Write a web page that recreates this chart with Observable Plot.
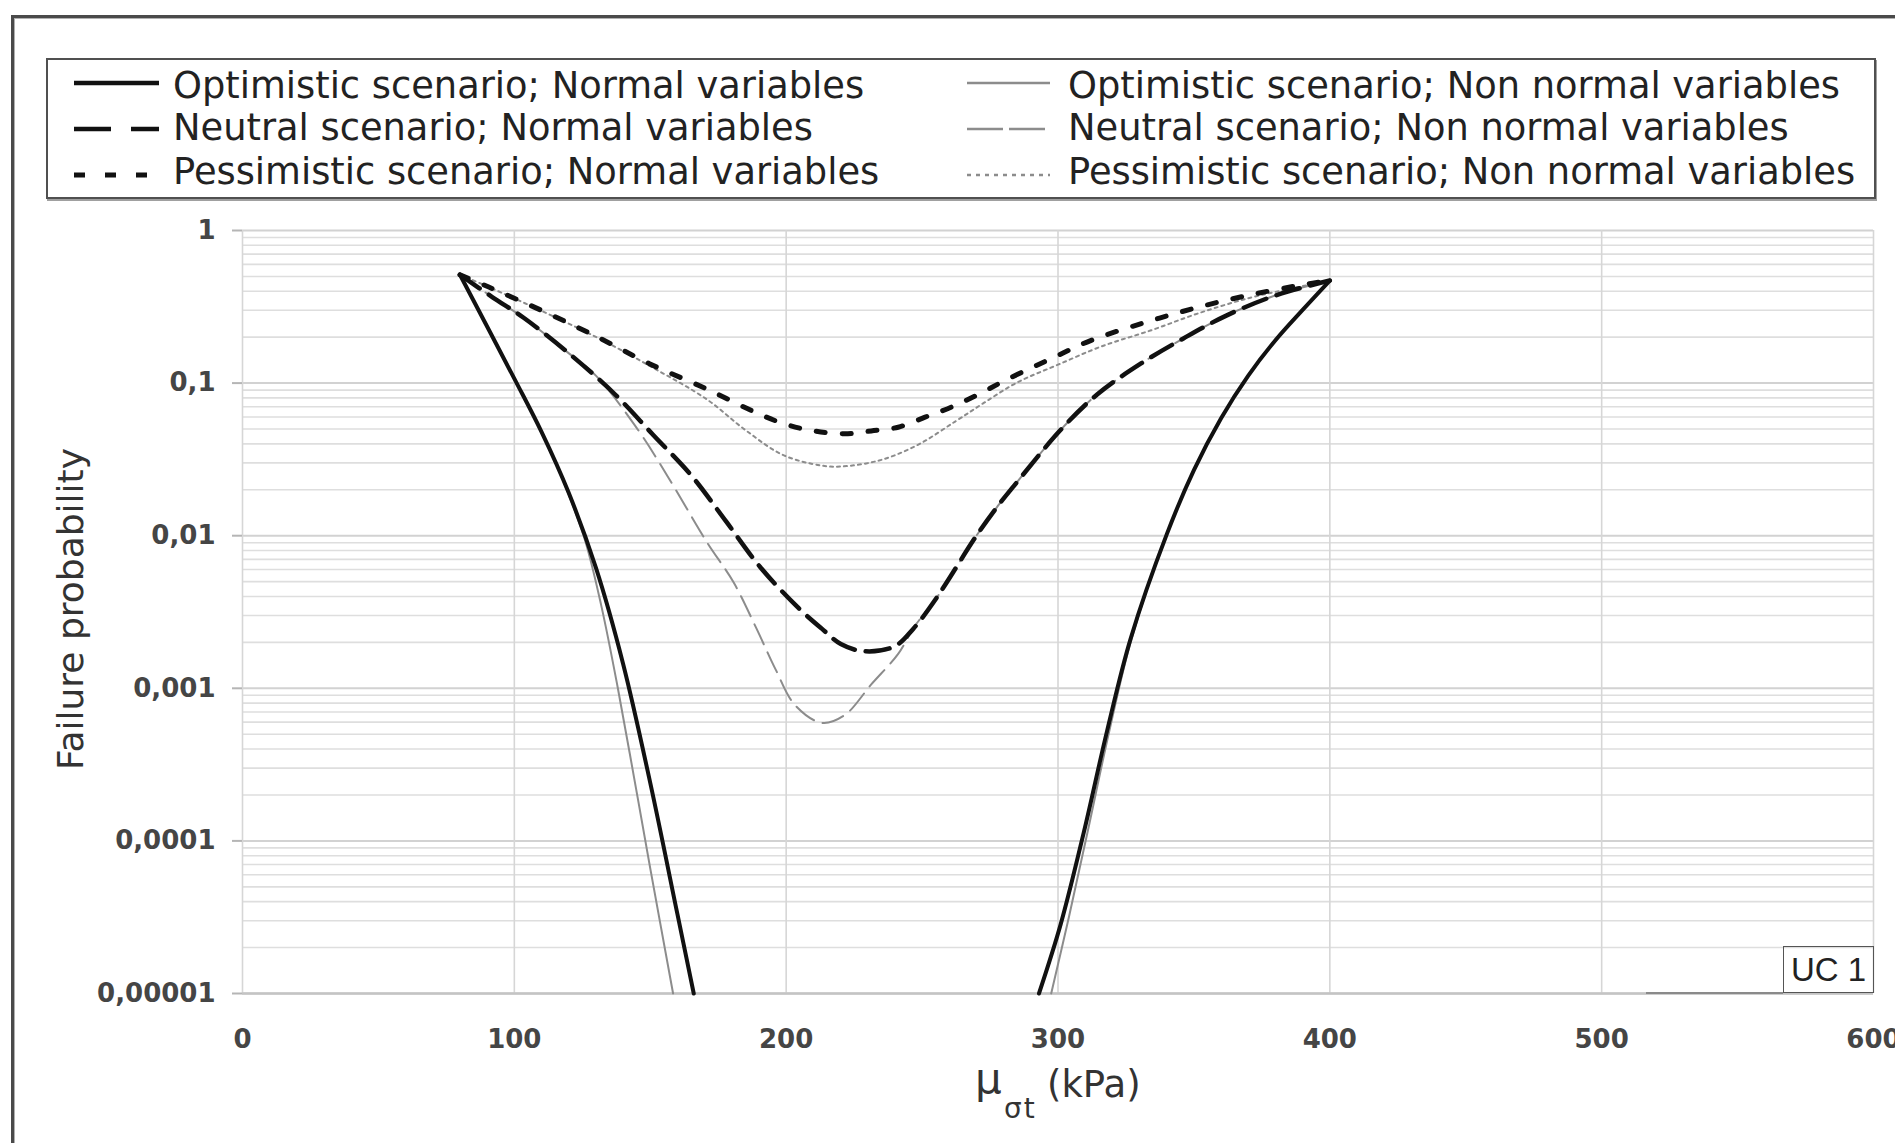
<!DOCTYPE html>
<html>
<head>
<meta charset="utf-8">
<script src="https://cdn.jsdelivr.net/npm/d3@7"></script>
<script src="https://cdn.jsdelivr.net/npm/@observablehq/plot@0.6"></script>
<style>
  html, body { margin: 0; padding: 0; background: #fff; overflow: hidden; }
  #wrap { position: relative; width: 1895px; height: 1143px; overflow: hidden; background: #fff; }
  #chart { position: absolute; left: 0; top: 0; }
  #frame { position: absolute; left: 11px; top: 15px; width: 2000px; height: 2000px;
           border-top: 3px solid #4a4a4a; border-left: 3px solid #4a4a4a;
           box-shadow: inset 1px 1px 0 #b0b0b0; }
  #legendBox { position: absolute; left: 46px; top: 58px; width: 1826px; height: 137px;
               border: 2px solid #505050; box-shadow: 1px 2px 0 #a0a0a0; background: transparent; }
  .ltext { position: absolute; font-family: "DejaVu Sans"; font-size: 36.8px; line-height: 44px;
           height: 44px; color: #222; white-space: nowrap; }
  #legendSamples { position: absolute; left: 0; top: 0; }
  #ylabel { position: absolute; left: 70px; top: 609px; font-family: "DejaVu Sans"; font-size: 36px;
            color: #333; white-space: nowrap; transform: translate(-50%, -50%) rotate(-90deg); }
  .xl { position: absolute; white-space: nowrap; color: #333; line-height: 1; }
  #uc { position: absolute; left: 1783px; top: 946px; width: 89px; height: 45px; border: 1.5px solid #555;
        font-family: "Liberation Sans"; font-size: 33px; line-height: 45px; text-align: center; color: #222; }
  #ucline { position: absolute; left: 1646px; top: 992px; width: 137px; height: 2px; background: #8a8a8a; }
</style>
</head>
<body>
<div id="wrap">
  <div id="chart"></div>
  <div id="frame"></div>
  <div id="legendBox"></div>
  <svg id="legendSamples" width="1895" height="200"></svg>
  <div id="legendTexts"></div>
  <div id="ylabel">Failure probability</div>
  <span class="xl" style="left:975px; top:1058px; font-family:'DejaVu Sans'; font-size:42px;">μ</span>
  <span class="xl" style="left:1004px; top:1095px; font-family:'DejaVu Sans'; font-size:28px; letter-spacing:2px;">σt</span>
  <span class="xl" style="left:1047px; top:1066px; font-family:'DejaVu Sans'; font-size:37px;">(kPa)</span>
  <div id="ucline"></div>
  <div id="uc">UC 1</div>
</div>
<script>
// ---------- axis ticks ----------
const xTicks = [0, 100, 200, 300, 400, 500, 600];
const xTickLabels = ["0", "100", "200", "300", "400", "500", "600"];
const yTicks = [1e-5, 1e-4, 1e-3, 1e-2, 1e-1, 1];
const yTickLabels = ["0,00001", "0,0001", "0,001", "0,01", "0,1", "1"];

// ---------- series (x = mean tensile strength, kPa; p = failure probability) ----------
// Optimistic scenario; Normal variables (two branches, both leave the chart at 1e-5)
const optNormLeftX = [80, 100, 110, 120, 130, 140, 150, 160, 166];
const optNormLeftP = [0.513, 0.107, 0.0479, 0.0191, 0.00617, 0.00145, 0.00024, 0.0000331, 0.00001];
const optNormRightX = [293, 301, 309.5, 318.1, 326.7, 340, 350, 360, 370, 380, 390, 400];
const optNormRightP = [0.00001, 0.0000285, 0.000114, 0.00053, 0.00211, 0.0102, 0.0269, 0.0589, 0.112, 0.191, 0.302, 0.47];

// Optimistic scenario; Non normal variables
const optNonLeftX = [80, 100, 110, 118, 126, 132, 138, 144, 150, 158.4];
const optNonLeftP = [0.513, 0.107, 0.0479, 0.0229, 0.00933, 0.00347, 0.00102, 0.000263, 0.0000661, 0.00001];
const optNonRightX = [297.5, 304, 311, 319, 327, 340, 350, 360, 370, 380, 390, 400];
const optNonRightP = [0.00001, 0.0000316, 0.000117, 0.000537, 0.00209, 0.0102, 0.0269, 0.0589, 0.112, 0.191, 0.302, 0.47];

// Neutral scenario; Normal variables
const neuNormX = [80, 92, 103.3, 120.2, 137, 151.1, 165.2, 177.9, 190.5, 204.6, 213.1, 220.1, 228.5, 239.8, 246.8, 255.3, 270, 277.8, 283.8, 301, 314.5, 330.4, 346.3, 362.3, 380.7, 400];
const neuNormP = [0.513, 0.365, 0.269, 0.156, 0.0845, 0.0457, 0.0247, 0.0124, 0.00621, 0.00335, 0.00246, 0.00195, 0.00175, 0.00188, 0.00246, 0.00391, 0.0100, 0.0156, 0.0212, 0.0494, 0.0845, 0.134, 0.197, 0.279, 0.379, 0.47];

// Neutral scenario; Non normal variables
const neuNonX = [80, 92, 103.3, 120.2, 130, 145.5, 156.7, 170.8, 180.7, 189.1, 196.1, 203.2, 213.1, 221.5, 231.3, 241.2, 247, 255.3, 270, 277.8, 283.8, 301, 314.5, 330.4, 346.3, 362.3, 380.7, 400];
const neuNonP = [0.513, 0.365, 0.269, 0.156, 0.112, 0.0494, 0.024, 0.0091, 0.00493, 0.00246, 0.00133, 0.000778, 0.000594, 0.000667, 0.00106, 0.00168, 0.00251, 0.00391, 0.0100, 0.0156, 0.0212, 0.0494, 0.0845, 0.134, 0.197, 0.279, 0.379, 0.47];

// Pessimistic scenario; Normal variables
const pesNormX = [80, 90.6, 111.7, 131.4, 149.7, 170.8, 190.5, 200.4, 210.2, 221.5, 231.3, 241.2, 251.1, 260.9, 270.8, 281.4, 299.7, 312, 331.5, 351.2, 370.8, 390.4, 400];
const pesNormP = [0.513, 0.426, 0.290, 0.197, 0.134, 0.0914, 0.0622, 0.0533, 0.0486, 0.0465, 0.0486, 0.0514, 0.0598, 0.0698, 0.0845, 0.106, 0.151, 0.190, 0.248, 0.313, 0.379, 0.442, 0.47];

// Pessimistic scenario; Non normal variables
const pesNonX = [80, 90.6, 111.7, 131.4, 150, 170.8, 184.9, 199, 213.1, 220.1, 234.2, 248.2, 262.3, 272.7, 285, 300, 316, 334, 352, 370.8, 386, 400];
const pesNonP = [0.513, 0.426, 0.288, 0.195, 0.129, 0.0783, 0.0494, 0.0337, 0.0288, 0.0284, 0.0311, 0.0392, 0.0562, 0.0741, 0.101, 0.132, 0.174, 0.221, 0.288, 0.363, 0.417, 0.47];

// ---------- legend ----------
const legendLabels = [
  "Optimistic scenario; Normal variables", "Neutral scenario; Normal variables", "Pessimistic scenario; Normal variables",
  "Optimistic scenario; Non normal variables", "Neutral scenario; Non normal variables", "Pessimistic scenario; Non normal variables"
];

// styles
const BLACK = "#111", GREY = "#8c8c8c";
const sty = {
  optNorm: {stroke: BLACK, strokeWidth: 4},
  neuNorm: {stroke: BLACK, strokeWidth: 4.5, strokeDasharray: "24,11"},
  pesNorm: {stroke: BLACK, strokeWidth: 5, strokeDasharray: "9,17"},
  optNon: {stroke: GREY, strokeWidth: 2},
  neuNon: {stroke: GREY, strokeWidth: 2, strokeDasharray: "22,9"},
  pesNon: {stroke: GREY, strokeWidth: 2, strokeDasharray: "3,4"}
};

const pts = (xs, ps) => xs.map((x, i) => ({x, p: ps[i]}));

// minor log grid
const minorY = [];
for (let k = -5; k <= -1; k++) for (let m = 2; m <= 9; m++) minorY.push(m * Math.pow(10, k));

const yLab = new Map(yTicks.map((t, i) => [t, yTickLabels[i]]));
const xLab = new Map(xTicks.map((t, i) => [t, xTickLabels[i]]));

const lineOpts = (s) => ({x: "x", y: "p", curve: "catmull-rom", strokeLinejoin: "round", ...s});

const chart = Plot.plot({
  width: 1895,
  height: 1143,
  marginLeft: 242,
  marginRight: 22,
  marginTop: 230,
  marginBottom: 150,
  style: {background: "transparent", fontFamily: "DejaVu Sans", fontWeight: "bold"},
  x: {domain: [0, 600]},
  y: {type: "log", domain: [1e-5, 1]},
  marks: [
    Plot.gridY(minorY, {stroke: "#dedede", strokeOpacity: 1, strokeWidth: 1.6}),
    Plot.gridY(yTicks, {stroke: "#d2d2d2", strokeOpacity: 1, strokeWidth: 2}),
    Plot.gridX(xTicks, {stroke: "#d6d6d6", strokeOpacity: 1, strokeWidth: 1.6}),
    Plot.ruleY([1e-5], {stroke: "#c4c4c4", strokeWidth: 2.5}),
    Plot.axisY(yTicks, {tickSize: 10, tickPadding: 17, tickFormat: d => yLab.get(d), fontSize: 26,
                        fontWeight: "bold", fill: "#454545", stroke: "#b5b5b5", strokeWidth: 2, label: null}),
    Plot.axisX(xTicks, {tickSize: 0, tickPadding: 36, tickFormat: d => xLab.get(d), fontSize: 26,
                        fontWeight: "bold", fill: "#454545", label: null}),
    // non-normal (grey) underneath
    Plot.line(pts(optNonLeftX, optNonLeftP), lineOpts(sty.optNon)),
    Plot.line(pts(optNonRightX, optNonRightP), lineOpts(sty.optNon)),
    Plot.line(pts(neuNonX, neuNonP), lineOpts(sty.neuNon)),
    Plot.line(pts(pesNonX, pesNonP), lineOpts(sty.pesNon)),
    // normal (black)
    Plot.line(pts(optNormLeftX, optNormLeftP), lineOpts(sty.optNorm)),
    Plot.line(pts(optNormRightX, optNormRightP), lineOpts(sty.optNorm)),
    Plot.line(pts(neuNormX, neuNormP), lineOpts(sty.neuNorm)),
    Plot.line(pts(pesNormX, pesNormP), lineOpts(sty.pesNorm))
  ]
});
document.getElementById("chart").appendChild(chart);

// legend layout
const legendStyles = [sty.optNorm, sty.neuNorm, sty.pesNorm, sty.optNon, sty.neuNon, sty.pesNon];
const legendSampleStyles = [
  {dash: null, w: 4.5}, {dash: "37,20", w: 4.5}, {dash: "11,20", w: 5},
  {dash: null, w: 2.5}, {dash: "36,6", w: 2.5}, {dash: "4,5", w: 2.5}
];
const rowText = [86, 128.3, 171.7];
const rowLine = [83, 129, 175];
const colText = [173, 1068];
const colLine = [[74, 159], [967, 1050]];
const svg = d3.select("#legendSamples");
const texts = d3.select("#legendTexts");
legendLabels.forEach((lab, i) => {
  const c = Math.floor(i / 3), r = i % 3;
  const s = legendStyles[i], ls = legendSampleStyles[i];
  svg.append("line")
    .attr("x1", colLine[c][0]).attr("x2", colLine[c][1])
    .attr("y1", rowLine[r]).attr("y2", rowLine[r])
    .attr("stroke", s.stroke).attr("stroke-width", ls.w)
    .attr("stroke-dasharray", ls.dash);
  texts.append("div").attr("class", "ltext")
    .style("left", colText[c] + "px").style("top", (rowText[r] - 22) + "px")
    .text(lab);
});
</script>
</body>
</html>
